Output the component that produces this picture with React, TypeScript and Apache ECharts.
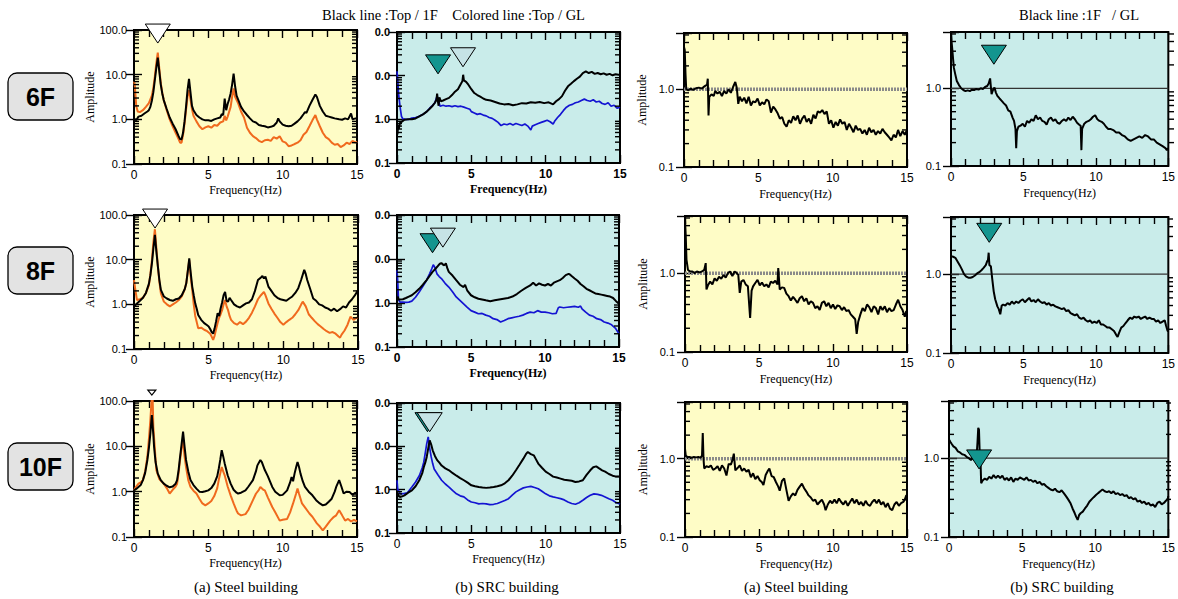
import React, { useEffect, useRef } from "react";
import * as echarts from "echarts";

// ---------- data (frequency Hz, amplitude) ----------
const A1_black = [[0,1.05],[0.15,0.95],[0.3,1.15],[0.5,1.2],[0.7,1.35],[0.9,1.5],[1.0,1.6],[1.1,1.9],[1.2,2.6],[1.3,4.0],[1.4,7.5],[1.5,14],[1.6,24],[1.7,12],[1.8,6],[1.9,3.8],[2.0,2.7],[2.2,1.7],[2.4,1.1],[2.6,0.8],[2.8,0.6],[3.0,0.42],[3.1,0.36],[3.2,0.36],[3.3,0.5],[3.4,0.9],[3.5,1.9],[3.6,4.5],[3.7,8.1],[3.8,4],[3.9,2],[4.0,1.6],[4.2,1.25],[4.4,1.1],[4.6,1.0],[4.8,0.95],[5.0,0.95],[5.2,0.92],[5.4,1.0],[5.6,1.05],[5.8,1.1],[5.9,1.3],[6.0,1.25],[6.1,2.9],[6.2,1.6],[6.3,2.2],[6.4,2.8],[6.5,3.8],[6.6,6],[6.7,10.5],[6.8,5.5],[6.9,3.4],[7.0,2.8],[7.2,1.9],[7.4,1.5],[7.6,1.25],[7.8,1.05],[8.0,0.9],[8.2,0.85],[8.4,0.75],[8.6,0.72],[8.8,0.7],[9.0,0.66],[9.2,0.68],[9.4,0.72],[9.6,0.85],[9.7,1.05],[9.8,0.9],[10.0,0.76],[10.2,0.72],[10.4,0.7],[10.6,0.72],[10.8,0.8],[11.0,0.9],[11.2,1.05],[11.4,1.3],[11.5,1.45],[11.6,1.4],[11.8,2.0],[12.0,2.7],[12.2,3.6],[12.3,3.2],[12.5,2.0],[12.7,1.5],[12.9,1.2],[13.1,1.15],[13.3,1.1],[13.5,1.05],[13.8,1.0],[14.0,0.98],[14.2,1.05],[14.4,1.0],[14.6,1.35],[14.7,1.0],[14.9,1.05],[15,1.05]];
const A1_orange = [[0,7],[0.05,6],[0.15,2.0],[0.25,1.5],[0.4,1.45],[0.6,1.6],[0.8,1.9],[1.0,2.3],[1.2,3.4],[1.3,5],[1.4,9],[1.5,18],[1.6,31],[1.7,14],[1.8,6.5],[1.9,4],[2.0,2.7],[2.2,1.6],[2.4,1.0],[2.6,0.7],[2.8,0.5],[3.0,0.36],[3.1,0.3],[3.2,0.3],[3.3,0.45],[3.4,0.8],[3.5,1.6],[3.6,3.2],[3.7,4.5],[3.8,2.8],[3.9,1.7],[4.0,1.2],[4.2,0.9],[4.4,0.7],[4.6,0.6],[4.8,0.66],[5.0,0.7],[5.2,0.65],[5.4,0.75],[5.6,0.72],[5.8,0.85],[6.0,0.9],[6.1,1.2],[6.2,0.95],[6.3,1.15],[6.5,1.9],[6.6,3.2],[6.7,4.9],[6.8,3.2],[7.0,2.3],[7.2,1.5],[7.4,1.1],[7.6,0.65],[7.8,0.5],[8.0,0.42],[8.2,0.38],[8.4,0.33],[8.6,0.31],[8.8,0.34],[9.0,0.35],[9.2,0.33],[9.4,0.4],[9.6,0.37],[9.8,0.42],[10.0,0.32],[10.2,0.3],[10.4,0.25],[10.6,0.26],[10.8,0.28],[11.0,0.3],[11.2,0.34],[11.4,0.45],[11.6,0.52],[11.8,0.7],[12.0,0.95],[12.2,1.25],[12.3,1.0],[12.5,0.7],[12.7,0.5],[12.9,0.4],[13.1,0.36],[13.3,0.3],[13.5,0.27],[13.7,0.28],[13.9,0.24],[14.1,0.26],[14.3,0.3],[14.5,0.28],[14.7,0.33],[14.9,0.3],[15,0.32]];
const A2_black = [[0,0.89],[0.2,1.05],[0.4,1.2],[0.6,1.4],[0.8,1.8],[1.0,2.9],[1.1,4.5],[1.2,8.3],[1.3,18],[1.4,36],[1.5,15],[1.6,7],[1.7,3.5],[1.8,2.1],[2.0,1.5],[2.2,1.35],[2.4,1.25],[2.6,1.2],[2.8,1.3],[3.0,1.35],[3.2,1.6],[3.4,2.2],[3.5,2.95],[3.6,5.5],[3.7,10.7],[3.8,5],[3.9,2.5],[4.0,1.6],[4.1,1.05],[4.2,0.8],[4.3,0.58],[4.5,0.45],[4.7,0.38],[4.9,0.34],[5.0,0.32],[5.1,0.28],[5.2,0.24],[5.3,0.22],[5.4,0.29],[5.5,0.42],[5.6,0.63],[5.7,0.55],[5.8,0.81],[5.9,1.1],[6.0,1.6],[6.1,1.9],[6.2,1.2],[6.3,1.15],[6.4,1.4],[6.5,1.25],[6.7,1.0],[6.9,0.9],[7.1,0.85],[7.3,0.95],[7.5,1.05],[7.7,1.1],[7.9,1.3],[8.1,2.0],[8.3,3.5],[8.5,4.0],[8.6,4.3],[8.7,3.8],[8.8,4.2],[9.0,2.5],[9.2,2.0],[9.4,1.6],[9.6,1.4],[9.8,1.3],[10.0,1.25],[10.2,1.2],[10.4,1.35],[10.6,1.5],[10.8,1.8],[11.0,2.3],[11.2,3.6],[11.4,5.9],[11.5,4.8],[11.6,3.5],[11.8,2.2],[12.0,1.35],[12.2,1.2],[12.4,1.0],[12.6,0.95],[12.8,0.85],[13.0,0.8],[13.2,0.72],[13.4,0.8],[13.6,0.7],[13.8,0.78],[14.0,0.9],[14.2,0.85],[14.4,1.1],[14.6,1.3],[14.8,1.6],[15,2.1]];
const A2_orange = [[0,3.5],[0.1,2.0],[0.2,1.25],[0.4,1.3],[0.6,1.4],[0.8,1.8],[1.0,2.7],[1.1,4.8],[1.2,9.8],[1.3,25],[1.4,48],[1.5,18],[1.6,7],[1.7,3.2],[1.8,1.75],[2.0,1.15],[2.2,1.0],[2.4,0.9],[2.6,1.0],[2.8,1.1],[3.0,1.25],[3.2,1.5],[3.4,2.2],[3.5,2.95],[3.6,5.5],[3.7,9.8],[3.8,4],[3.9,2.1],[4.0,1.0],[4.1,0.55],[4.2,0.4],[4.3,0.29],[4.5,0.3],[4.7,0.27],[4.9,0.25],[5.1,0.22],[5.2,0.19],[5.3,0.16],[5.4,0.2],[5.5,0.28],[5.6,0.38],[5.7,0.5],[5.8,0.6],[5.9,0.74],[6.0,1.0],[6.1,1.25],[6.2,0.9],[6.3,0.74],[6.4,0.55],[6.5,0.45],[6.7,0.38],[6.9,0.35],[7.1,0.4],[7.3,0.36],[7.5,0.41],[7.7,0.5],[7.9,0.65],[8.1,0.9],[8.3,1.3],[8.5,1.6],[8.7,1.9],[8.8,1.6],[9.0,1.05],[9.2,0.8],[9.4,0.62],[9.6,0.5],[9.8,0.4],[10.0,0.35],[10.2,0.4],[10.4,0.45],[10.6,0.5],[10.8,0.6],[11.0,0.74],[11.2,1.0],[11.3,1.15],[11.5,0.9],[11.7,0.6],[11.9,0.5],[12.1,0.42],[12.3,0.36],[12.5,0.32],[12.7,0.28],[12.9,0.25],[13.1,0.23],[13.3,0.24],[13.5,0.22],[13.7,0.19],[13.8,0.18],[13.9,0.21],[14.1,0.26],[14.3,0.35],[14.5,0.53],[14.7,0.45],[14.9,0.5],[15,0.49]];
const A3_black = [[0,1.07],[0.15,1.15],[0.3,1.27],[0.45,1.4],[0.6,1.8],[0.75,2.6],[0.9,5],[1.0,9],[1.1,19],[1.2,49],[1.3,18],[1.35,9.8],[1.45,4.5],[1.6,2.5],[1.8,1.8],[2.0,1.5],[2.2,1.35],[2.4,1.25],[2.6,1.3],[2.8,1.5],[2.9,1.8],[3.0,3],[3.1,5.9],[3.2,11],[3.3,21],[3.4,10],[3.5,5],[3.65,2.8],[3.8,1.8],[4.0,1.4],[4.2,1.17],[4.4,1.0],[4.6,0.98],[4.8,1.02],[5.0,1.07],[5.2,1.2],[5.4,1.5],[5.6,2.2],[5.7,3.2],[5.8,5],[5.9,8.2],[6.0,6],[6.1,4.2],[6.3,2.3],[6.5,1.5],[6.7,1.1],[6.9,0.95],[7.0,0.91],[7.2,0.95],[7.5,1.07],[7.7,1.3],[8.0,1.8],[8.2,2.8],[8.3,3.8],[8.5,5],[8.6,4.5],[8.8,3],[9.0,2.2],[9.3,1.27],[9.5,1.0],[9.8,0.83],[10.0,0.85],[10.3,1.07],[10.5,1.6],[10.6,2.1],[10.7,1.7],[10.8,2.5],[10.9,3.4],[11.0,4.5],[11.1,3.5],[11.2,2.5],[11.35,1.7],[11.5,1.27],[11.75,1.0],[12.0,0.83],[12.25,0.65],[12.5,0.55],[12.7,0.5],[12.9,0.52],[13.1,0.6],[13.3,0.7],[13.5,1.0],[13.6,1.27],[13.8,1.8],[13.95,1.3],[14.1,0.91],[14.3,1.0],[14.5,0.98],[14.7,0.85],[14.9,0.95],[15,0.83]];
const A3_orange = [[0,1.07],[0.15,1.3],[0.3,1.5],[0.45,1.6],[0.6,1.8],[0.75,2.8],[0.9,5.9],[1.0,14],[1.1,38],[1.2,130],[1.25,130],[1.3,27],[1.4,9],[1.5,3],[1.7,1.9],[2.0,1.5],[2.2,1.2],[2.4,0.91],[2.6,1.1],[2.8,1.3],[2.9,1.5],[3.0,2.6],[3.1,5],[3.2,9],[3.3,13.7],[3.4,6],[3.5,3.5],[3.65,1.8],[3.8,1.27],[4.0,1.05],[4.2,0.91],[4.4,0.7],[4.6,0.55],[4.8,0.5],[5.0,0.55],[5.2,0.62],[5.4,0.8],[5.6,1.2],[5.7,1.8],[5.8,2.5],[5.9,3.5],[6.0,2.8],[6.1,2.3],[6.3,1.3],[6.5,0.83],[6.7,0.55],[6.9,0.38],[7.0,0.33],[7.2,0.3],[7.5,0.32],[7.7,0.4],[8.0,0.65],[8.2,0.9],[8.4,1.1],[8.5,1.27],[8.7,1.1],[8.8,1.07],[9.0,0.75],[9.3,0.46],[9.5,0.35],[9.8,0.23],[10.0,0.24],[10.3,0.25],[10.5,0.35],[10.7,0.55],[10.9,0.9],[11.0,1.17],[11.1,0.9],[11.3,0.55],[11.5,0.45],[11.8,0.33],[12.0,0.28],[12.3,0.2],[12.5,0.17],[12.7,0.14],[12.9,0.17],[13.2,0.23],[13.4,0.27],[13.6,0.3],[13.8,0.39],[14.0,0.3],[14.2,0.23],[14.4,0.25],[14.6,0.22],[14.8,0.24],[15,0.22]];

const B1_black = [[0,0.58],[0.03,0.45],[0.08,0.75],[0.12,0.6],[0.2,0.83],[0.35,0.9],[0.5,0.98],[0.75,1.0],[1.0,1.0],[1.25,1.05],[1.5,1.17],[1.75,1.3],[2.0,1.5],[2.2,1.75],[2.4,2.05],[2.55,2.4],[2.65,2.8],[2.7,3.9],[2.75,2.6],[2.8,2.05],[2.85,3.2],[2.95,2.6],[3.1,2.7],[3.3,2.9],[3.5,3.1],[3.7,3.6],[3.9,4.3],[4.1,4.9],[4.3,6.5],[4.4,7.5],[4.45,10.5],[4.5,7.8],[4.65,7.2],[4.8,6.2],[5.0,4.9],[5.2,4.0],[5.4,3.6],[5.6,3.3],[5.8,3.0],[6.0,2.8],[6.3,2.7],[6.6,2.5],[6.9,2.3],[7.2,2.2],[7.5,2.25],[7.8,2.1],[8.1,2.2],[8.4,2.35],[8.7,2.3],[9.0,2.45],[9.3,2.4],[9.6,2.5],[9.9,2.35],[10.2,2.45],[10.5,2.2],[10.7,2.6],[10.9,2.9],[11.1,3.4],[11.3,4.5],[11.5,5.7],[11.7,6.5],[11.9,7.5],[12.1,8.5],[12.3,9.5],[12.5,11.5],[12.7,12.5],[12.9,11.5],[13.1,12.2],[13.3,11],[13.5,11.5],[13.7,10.8],[13.9,11.3],[14.1,10.5],[14.3,11],[14.5,10.2],[14.7,10.8],[14.9,10.5],[15,10.5]];
const B1_blue = [[0,12.6],[0.05,8],[0.1,4],[0.2,2],[0.3,1.17],[0.4,1.02],[0.6,1.0],[0.8,1.0],[1.0,1.07],[1.25,1.1],[1.5,1.17],[1.75,1.3],[2.0,1.5],[2.2,1.8],[2.4,2.1],[2.55,2.4],[2.7,3.4],[2.8,2.6],[2.9,2.0],[3.1,2.1],[3.3,2.0],[3.5,2.05],[3.7,1.95],[3.9,2.05],[4.1,1.95],[4.3,2.0],[4.5,1.9],[4.7,1.8],[4.9,1.7],[5.0,1.5],[5.2,1.4],[5.4,1.3],[5.6,1.35],[5.8,1.25],[6.0,1.2],[6.2,1.1],[6.4,1.05],[6.6,0.95],[6.8,0.85],[7.0,0.72],[7.2,0.78],[7.4,0.75],[7.6,0.8],[7.8,0.74],[8.0,0.8],[8.2,0.76],[8.4,0.72],[8.6,0.78],[8.8,0.7],[9.0,0.57],[9.1,0.7],[9.3,0.75],[9.5,0.8],[9.7,0.85],[9.9,0.9],[10.1,0.95],[10.3,0.88],[10.5,0.78],[10.6,0.9],[10.8,1.1],[11.0,1.3],[11.2,1.6],[11.4,1.9],[11.6,2.1],[11.8,2.2],[12.0,2.4],[12.2,2.5],[12.4,2.7],[12.6,2.9],[12.8,2.7],[13.0,2.6],[13.2,2.8],[13.4,2.5],[13.6,2.6],[13.8,2.3],[14.0,2.2],[14.2,2.4],[14.4,2.0],[14.6,2.1],[14.8,1.8],[15,1.9]];
const B2_black = [[0,1.15],[0.05,1.4],[0.1,1.2],[0.2,1.2],[0.4,1.22],[0.6,1.3],[0.8,1.4],[1.0,1.5],[1.25,1.75],[1.5,2.1],[1.75,2.6],[2.0,3.3],[2.2,4.1],[2.4,5.1],[2.6,6],[2.8,7.2],[2.9,7.8],[3.0,8.1],[3.1,7.5],[3.2,7.2],[3.3,8],[3.4,6.2],[3.5,5.1],[3.75,4.2],[4.0,3.3],[4.25,2.6],[4.5,2.3],[4.6,2.6],[4.75,1.9],[5.0,1.5],[5.25,1.35],[5.5,1.25],[5.75,1.2],[6.0,1.15],[6.3,1.1],[6.6,1.15],[6.9,1.2],[7.2,1.25],[7.5,1.3],[7.8,1.4],[8.1,1.6],[8.4,1.9],[8.7,2.2],[9.0,2.5],[9.2,2.9],[9.4,2.5],[9.6,2.8],[9.8,2.6],[10.0,2.5],[10.2,2.7],[10.4,2.5],[10.6,2.9],[10.8,3.1],[11.0,3.3],[11.2,3.7],[11.4,4.3],[11.6,4.6],[11.7,4.4],[11.8,4.1],[12.0,3.6],[12.2,3.2],[12.4,2.7],[12.6,2.4],[12.8,2.1],[13.0,1.95],[13.2,1.8],[13.4,1.65],[13.6,1.6],[13.8,1.55],[14.0,1.5],[14.2,1.45],[14.4,1.4],[14.6,1.3],[14.8,1.1],[15,0.96]];
const B2_blue = [[0,5.5],[0.05,3],[0.1,1.2],[0.2,1.05],[0.4,1.05],[0.6,1.03],[0.8,1.05],[1.0,1.1],[1.25,1.35],[1.5,1.78],[1.75,2.4],[2.0,3.3],[2.2,4.6],[2.35,6],[2.45,7.4],[2.55,6.5],[2.7,4.6],[2.85,4.0],[3.0,3.6],[3.25,2.8],[3.5,2.3],[3.75,1.8],[4.0,1.37],[4.25,1.15],[4.5,0.96],[4.75,0.8],[5.0,0.67],[5.25,0.62],[5.5,0.57],[5.75,0.58],[6.0,0.53],[6.25,0.5],[6.5,0.44],[6.75,0.42],[7.0,0.37],[7.25,0.4],[7.5,0.44],[7.75,0.46],[8.0,0.48],[8.25,0.5],[8.5,0.53],[8.75,0.58],[9.0,0.62],[9.25,0.6],[9.5,0.67],[9.75,0.62],[10.0,0.62],[10.25,0.6],[10.5,0.57],[10.75,0.58],[10.9,0.78],[11.0,0.81],[11.25,0.78],[11.5,0.8],[11.75,0.82],[12.0,0.84],[12.25,0.8],[12.4,0.85],[12.5,0.74],[12.75,0.62],[13.0,0.53],[13.25,0.5],[13.5,0.44],[13.75,0.42],[14.0,0.37],[14.25,0.35],[14.5,0.32],[14.75,0.27],[15,0.2]];
const B3_black = [[0,0.89],[0.1,0.72],[0.2,0.68],[0.35,0.7],[0.5,0.74],[0.75,0.85],[1.0,0.96],[1.25,1.2],[1.5,1.65],[1.7,2.4],[1.8,3.3],[1.9,4.2],[2.0,5.7],[2.1,9],[2.2,13.7],[2.3,11],[2.4,8.1],[2.55,6],[2.7,4.8],[2.85,4.2],[3.0,3.6],[3.25,3.1],[3.5,2.8],[3.75,2.4],[4.0,2.1],[4.25,1.85],[4.5,1.65],[4.75,1.45],[5.0,1.26],[5.25,1.2],[5.5,1.15],[5.75,1.12],[6.0,1.1],[6.25,1.12],[6.5,1.15],[6.75,1.2],[7.0,1.26],[7.25,1.4],[7.5,1.65],[7.75,2.1],[8.0,2.8],[8.25,3.8],[8.5,5.2],[8.7,6.8],[8.8,7.4],[9.0,6.6],[9.2,6.2],[9.35,5],[9.5,4],[9.75,3.2],[10.0,2.6],[10.25,2.3],[10.5,2.0],[10.75,1.9],[11.0,1.8],[11.25,1.7],[11.5,1.65],[11.75,1.6],[12.0,1.5],[12.25,1.55],[12.5,1.65],[12.75,2.2],[13.0,2.8],[13.2,3.3],[13.4,3.45],[13.6,3.1],[13.8,2.8],[14.0,2.6],[14.25,2.3],[14.5,2.1],[14.75,2.0],[15,2.0]];
const B3_blue = [[0,1.65],[0.05,1.0],[0.1,0.96],[0.2,0.82],[0.3,0.8],[0.5,0.82],[0.7,0.85],[1.0,1.15],[1.25,1.5],[1.5,2.1],[1.7,3.2],[1.8,4.3],[1.9,7],[2.0,11.5],[2.1,16.5],[2.2,9],[2.3,5.7],[2.4,4],[2.5,3],[2.75,2.2],[3.0,1.65],[3.25,1.35],[3.5,1.15],[3.75,0.95],[4.0,0.8],[4.25,0.72],[4.5,0.68],[4.75,0.58],[5.0,0.52],[5.25,0.5],[5.5,0.47],[5.75,0.48],[6.0,0.47],[6.25,0.45],[6.5,0.46],[6.75,0.48],[7.0,0.52],[7.25,0.56],[7.5,0.62],[7.75,0.75],[8.0,0.89],[8.25,1.0],[8.5,1.1],[8.75,1.15],[9.0,1.19],[9.25,1.12],[9.5,1.05],[9.75,0.92],[10.0,0.8],[10.25,0.72],[10.5,0.68],[10.75,0.65],[11.0,0.62],[11.25,0.58],[11.5,0.52],[11.75,0.48],[12.0,0.46],[12.25,0.5],[12.5,0.57],[12.75,0.66],[13.0,0.74],[13.25,0.8],[13.5,0.78],[13.75,0.74],[14.0,0.68],[14.25,0.62],[14.5,0.57],[14.75,0.5],[15,0.47]];

const C1_black = [[0,3.5],[0.05,3.2],[0.1,1.6],[0.15,1.0],[0.3,0.97],[0.45,1.02],[0.6,0.98],[0.8,1.03],[1.0,1.05],[1.2,1.02],[1.4,1.1],[1.55,1.15],[1.6,1.37],[1.65,0.46],[1.7,0.8],[1.85,0.86],[2.0,0.82],[2.1,0.95],[2.25,0.88],[2.4,0.93],[2.55,0.82],[2.7,0.95],[2.85,0.88],[3.0,1.0],[3.15,0.9],[3.3,1.07],[3.45,1.24],[3.55,1.05],[3.65,0.65],[3.75,0.8],[3.9,0.7],[4.05,0.78],[4.2,0.66],[4.35,0.8],[4.5,0.62],[4.65,0.7],[4.8,0.68],[4.95,0.76],[5.1,0.62],[5.25,0.68],[5.4,0.64],[5.55,0.74],[5.7,0.7],[5.85,0.5],[6.0,0.6],[6.15,0.55],[6.3,0.49],[6.45,0.42],[6.6,0.44],[6.75,0.36],[6.9,0.33],[7.05,0.4],[7.2,0.37],[7.35,0.45],[7.5,0.4],[7.65,0.46],[7.8,0.36],[7.95,0.42],[8.1,0.46],[8.25,0.38],[8.4,0.42],[8.55,0.36],[8.7,0.47],[8.85,0.42],[9.0,0.52],[9.15,0.5],[9.3,0.54],[9.45,0.48],[9.6,0.52],[9.75,0.36],[9.9,0.4],[10.05,0.32],[10.2,0.38],[10.35,0.34],[10.5,0.41],[10.65,0.36],[10.8,0.38],[10.95,0.3],[11.1,0.36],[11.25,0.32],[11.4,0.28],[11.55,0.34],[11.7,0.3],[11.85,0.31],[12.0,0.27],[12.15,0.3],[12.3,0.26],[12.45,0.32],[12.6,0.28],[12.75,0.3],[12.9,0.26],[13.05,0.29],[13.2,0.27],[13.35,0.31],[13.5,0.28],[13.65,0.26],[13.8,0.24],[13.95,0.22],[14.1,0.26],[14.25,0.24],[14.4,0.3],[14.55,0.25],[14.7,0.29],[14.85,0.26],[15,0.3]];
const D1_black = [[0,5],[0.05,3.8],[0.1,3],[0.15,2.3],[0.2,1.83],[0.3,1.5],[0.4,1.24],[0.55,1.1],[0.7,1.0],[0.85,0.95],[1.0,0.92],[1.15,0.94],[1.3,0.92],[1.45,0.96],[1.6,0.95],[1.75,0.98],[1.9,0.96],[2.05,1.0],[2.2,0.98],[2.35,1.04],[2.5,1.07],[2.6,1.15],[2.7,1.34],[2.75,1.05],[2.8,0.84],[2.9,0.95],[3.0,1.02],[3.1,0.88],[3.2,0.8],[3.35,0.74],[3.5,0.69],[3.65,0.64],[3.8,0.6],[3.95,0.52],[4.1,0.5],[4.25,0.42],[4.35,0.38],[4.45,0.3],[4.5,0.17],[4.55,0.28],[4.65,0.32],[4.8,0.33],[4.95,0.35],[5.1,0.32],[5.25,0.38],[5.4,0.36],[5.55,0.4],[5.7,0.38],[5.85,0.45],[6.0,0.4],[6.15,0.42],[6.3,0.38],[6.45,0.37],[6.6,0.34],[6.75,0.4],[6.9,0.42],[7.05,0.38],[7.2,0.4],[7.35,0.36],[7.5,0.35],[7.65,0.38],[7.8,0.4],[7.95,0.38],[8.1,0.42],[8.25,0.39],[8.4,0.43],[8.55,0.4],[8.7,0.36],[8.85,0.34],[8.95,0.33],[9.0,0.16],[9.05,0.3],[9.2,0.35],[9.35,0.37],[9.5,0.38],[9.65,0.4],[9.8,0.43],[9.95,0.45],[10.1,0.4],[10.25,0.38],[10.4,0.37],[10.55,0.35],[10.7,0.32],[10.85,0.3],[11.0,0.3],[11.2,0.29],[11.4,0.27],[11.6,0.27],[11.8,0.25],[12.0,0.24],[12.2,0.22],[12.4,0.21],[12.6,0.22],[12.8,0.23],[13.0,0.24],[13.2,0.23],[13.4,0.25],[13.6,0.24],[13.8,0.22],[14.0,0.22],[14.2,0.2],[14.4,0.19],[14.6,0.18],[14.8,0.17],[14.9,0.16],[15,0.17]];
const C2_black = [[0,4.7],[0.05,3],[0.1,1.48],[0.2,1.1],[0.35,1.05],[0.5,1.05],[0.65,1.0],[0.8,1.05],[1.0,1.02],[1.15,1.05],[1.3,1.1],[1.4,1.34],[1.45,0.62],[1.55,0.7],[1.7,0.78],[1.85,0.72],[2.0,0.86],[2.15,0.8],[2.3,0.9],[2.45,0.85],[2.6,0.95],[2.75,0.88],[2.9,1.0],[3.05,1.05],[3.2,0.92],[3.35,1.05],[3.5,1.0],[3.6,0.95],[3.7,0.56],[3.8,0.78],[3.95,0.82],[4.1,0.72],[4.25,0.68],[4.4,0.27],[4.5,0.6],[4.6,0.68],[4.75,0.75],[4.9,0.82],[5.05,0.7],[5.2,0.76],[5.35,0.68],[5.5,0.72],[5.65,0.66],[5.8,0.78],[5.95,0.75],[6.1,0.8],[6.25,0.72],[6.3,1.16],[6.4,0.62],[6.55,0.66],[6.7,0.65],[6.85,0.55],[7.0,0.51],[7.15,0.45],[7.3,0.5],[7.45,0.46],[7.6,0.42],[7.75,0.48],[7.9,0.51],[8.05,0.44],[8.2,0.48],[8.35,0.4],[8.5,0.44],[8.65,0.42],[8.8,0.36],[8.95,0.38],[9.1,0.34],[9.25,0.42],[9.4,0.44],[9.55,0.38],[9.7,0.42],[9.85,0.36],[10.0,0.4],[10.15,0.35],[10.3,0.39],[10.45,0.38],[10.6,0.34],[10.75,0.37],[10.9,0.33],[11.05,0.34],[11.2,0.3],[11.35,0.28],[11.5,0.26],[11.6,0.17],[11.7,0.24],[11.85,0.3],[12.0,0.36],[12.15,0.33],[12.3,0.4],[12.45,0.37],[12.6,0.32],[12.75,0.38],[12.9,0.36],[13.05,0.3],[13.2,0.38],[13.35,0.34],[13.5,0.38],[13.65,0.32],[13.8,0.36],[13.95,0.33],[14.1,0.34],[14.25,0.4],[14.4,0.46],[14.55,0.38],[14.7,0.34],[14.85,0.28],[14.95,0.33],[15,0.31]];
const D2_black = [[0,1.69],[0.15,1.66],[0.3,1.61],[0.45,1.45],[0.6,1.3],[0.75,1.15],[0.9,1.0],[1.05,0.93],[1.2,0.9],[1.35,0.9],[1.5,0.92],[1.65,0.96],[1.8,1.02],[1.95,1.06],[2.1,1.12],[2.25,1.2],[2.4,1.3],[2.5,1.46],[2.55,1.5],[2.6,1.87],[2.65,1.3],[2.75,1.26],[2.85,0.86],[2.95,0.6],[3.05,0.48],[3.2,0.39],[3.3,0.36],[3.4,0.31],[3.5,0.4],[3.6,0.41],[3.75,0.4],[3.9,0.43],[4.05,0.41],[4.2,0.45],[4.35,0.42],[4.5,0.45],[4.65,0.43],[4.8,0.46],[4.95,0.48],[5.1,0.44],[5.25,0.47],[5.4,0.5],[5.55,0.45],[5.7,0.47],[5.85,0.44],[6.0,0.48],[6.15,0.45],[6.3,0.43],[6.45,0.44],[6.6,0.41],[6.75,0.43],[6.9,0.4],[7.05,0.41],[7.2,0.39],[7.35,0.38],[7.5,0.37],[7.65,0.36],[7.8,0.37],[7.95,0.34],[8.1,0.35],[8.25,0.32],[8.4,0.31],[8.55,0.3],[8.7,0.31],[8.85,0.28],[9.0,0.27],[9.15,0.28],[9.3,0.26],[9.45,0.25],[9.6,0.26],[9.75,0.24],[9.9,0.25],[10.05,0.24],[10.2,0.26],[10.35,0.23],[10.5,0.23],[10.65,0.22],[10.8,0.21],[10.95,0.21],[11.1,0.2],[11.25,0.19],[11.4,0.17],[11.5,0.16],[11.6,0.18],[11.75,0.21],[11.9,0.22],[12.05,0.24],[12.2,0.26],[12.35,0.28],[12.5,0.27],[12.65,0.29],[12.8,0.28],[12.95,0.29],[13.1,0.27],[13.25,0.28],[13.4,0.29],[13.55,0.27],[13.7,0.28],[13.85,0.27],[14.0,0.27],[14.15,0.25],[14.3,0.26],[14.45,0.24],[14.6,0.25],[14.75,0.26],[14.85,0.22],[14.95,0.19],[15,0.19]];
const C3_black = [[0,1.34],[0.05,1.1],[0.15,1.05],[0.3,1.05],[0.45,1.03],[0.6,1.05],[0.75,1.04],[0.9,1.05],[1.05,1.03],[1.15,1.1],[1.2,2.13],[1.25,1.0],[1.3,0.75],[1.45,0.8],[1.6,0.78],[1.75,0.82],[1.9,0.72],[2.05,0.75],[2.2,0.8],[2.35,0.7],[2.5,0.82],[2.65,0.75],[2.8,0.61],[2.95,0.86],[3.1,0.84],[3.2,0.95],[3.3,1.16],[3.4,0.71],[3.55,0.76],[3.7,0.82],[3.85,0.7],[4.0,0.75],[4.15,0.68],[4.3,0.72],[4.45,0.58],[4.6,0.65],[4.75,0.55],[4.9,0.6],[5.05,0.53],[5.2,0.5],[5.3,0.46],[5.45,0.62],[5.6,0.7],[5.7,0.75],[5.85,0.6],[6.0,0.58],[6.15,0.5],[6.3,0.44],[6.4,0.39],[6.55,0.52],[6.7,0.56],[6.85,0.4],[7.0,0.29],[7.15,0.33],[7.3,0.36],[7.45,0.34],[7.6,0.4],[7.75,0.44],[7.9,0.48],[8.05,0.42],[8.2,0.38],[8.35,0.34],[8.5,0.32],[8.65,0.29],[8.8,0.3],[8.95,0.26],[9.1,0.28],[9.25,0.3],[9.4,0.26],[9.5,0.22],[9.65,0.26],[9.8,0.29],[9.95,0.27],[10.1,0.3],[10.25,0.27],[10.4,0.31],[10.55,0.28],[10.7,0.26],[10.85,0.29],[11.0,0.25],[11.15,0.28],[11.3,0.31],[11.45,0.27],[11.6,0.3],[11.75,0.26],[11.9,0.28],[12.05,0.25],[12.2,0.29],[12.35,0.26],[12.5,0.25],[12.65,0.28],[12.8,0.3],[12.95,0.27],[13.1,0.3],[13.25,0.26],[13.4,0.28],[13.55,0.24],[13.7,0.27],[13.85,0.23],[14.0,0.22],[14.15,0.26],[14.3,0.28],[14.45,0.25],[14.6,0.27],[14.75,0.28],[14.85,0.3],[14.95,0.34],[15,0.34]];
const D3_black = [[0,1.72],[0.1,1.6],[0.2,1.5],[0.3,1.41],[0.45,1.35],[0.6,1.22],[0.75,1.18],[0.9,1.12],[1.05,1.1],[1.2,1.04],[1.35,1.0],[1.5,0.95],[1.65,1.0],[1.8,1.1],[1.9,1.15],[1.95,1.6],[2.0,2.42],[2.05,2.3],[2.1,1.16],[2.15,1.0],[2.2,0.48],[2.3,0.52],[2.45,0.55],[2.6,0.53],[2.75,0.58],[2.9,0.55],[3.05,0.61],[3.2,0.56],[3.35,0.6],[3.5,0.56],[3.65,0.6],[3.8,0.53],[3.95,0.56],[4.1,0.52],[4.25,0.57],[4.4,0.5],[4.55,0.55],[4.7,0.53],[4.85,0.57],[5.0,0.55],[5.15,0.53],[5.3,0.57],[5.45,0.52],[5.6,0.53],[5.75,0.5],[5.9,0.52],[6.05,0.48],[6.2,0.5],[6.35,0.46],[6.5,0.47],[6.65,0.44],[6.8,0.42],[6.95,0.4],[7.1,0.39],[7.25,0.41],[7.4,0.38],[7.55,0.37],[7.7,0.39],[7.85,0.36],[8.0,0.33],[8.15,0.3],[8.3,0.27],[8.45,0.23],[8.6,0.2],[8.7,0.18],[8.8,0.165],[8.9,0.19],[9.0,0.2],[9.15,0.21],[9.3,0.23],[9.45,0.25],[9.6,0.28],[9.75,0.3],[9.9,0.32],[10.05,0.34],[10.2,0.36],[10.35,0.38],[10.5,0.4],[10.65,0.38],[10.8,0.37],[10.95,0.38],[11.1,0.36],[11.25,0.38],[11.4,0.35],[11.55,0.36],[11.7,0.34],[11.85,0.35],[12.0,0.33],[12.15,0.34],[12.3,0.31],[12.45,0.32],[12.6,0.3],[12.75,0.31],[12.9,0.28],[13.05,0.29],[13.2,0.27],[13.35,0.28],[13.5,0.26],[13.65,0.27],[13.8,0.25],[13.95,0.26],[14.1,0.24],[14.25,0.27],[14.4,0.28],[14.55,0.26],[14.7,0.27],[14.85,0.29],[14.95,0.3],[15,0.33]];

const UNITY_LINE = [[0, 1], [15, 1]];

// peak markers: frequency (Hz) and tip amplitude
const A1_marks = [{ f: 1.6, tip: 51, kind: "white" }];
const B1_marks = [{ f: 2.76, tip: 11, kind: "teal" }, { f: 4.44, tip: 16, kind: "light" }];
const A2_marks = [{ f: 1.41, tip: 51, kind: "white" }];
const B2_marks = [{ f: 2.4, tip: 13.9, kind: "teal" }, { f: 3.1, tip: 18.6, kind: "light" }];
const A3_marks = [{ f: 1.2, tip: 135, kind: "small" }];
const B3_marks = [{ f: 2.05, tip: 21.8, kind: "teal" }, { f: 2.2, tip: 21.8, kind: "light" }];
const D1_marks = [{ f: 2.96, tip: 2.04, kind: "teal" }];
const D2_marks = [{ f: 2.64, tip: 2.53, kind: "teal" }];
const D3_marks = [{ f: 2.06, tip: 0.73, kind: "teal" }];

const ROW_LABELS = ["6F", "8F", "10F"];
const CAPTIONS = ["(a) Steel building", "(b) SRC building", "(a) Steel building", "(b) SRC building"];
const HEADER_1 = "Black line :Top / 1F    Colored line :Top / GL";
const HEADER_2 = "Black line :1F   / GL";
const X_NAME = "Frequency(Hz)";
const Y_NAME = "Amplitude";

// ---------- styling ----------
const BLACK = "#000000";
const ORANGE = "#f06a1e";
const BLUE = "#1414d2";
const YELLOW = "#fefcc6";
const CYAN = "#c9ecea";
const TEAL = "#13958f";
const LIGHT = "#c6e3e6";
const SANS = "'Liberation Sans', Arial, sans-serif";
const SERIF = "'Liberation Serif', 'Times New Roman', serif";

type Line = { data: number[][]; color: string; width: number; ref?: boolean };
type Panel = {
  kind: "A" | "B" | "C" | "D";
  rect: [number, number, number, number];
  lines: Line[];
  marks: { f: number; tip: number; kind: string }[];
  boldX?: boolean;
};

const panels: Panel[] = [
  { kind: "A", rect: [134, 30, 223, 134], lines: [{ data: A1_orange, color: ORANGE, width: 2 }, { data: A1_black, color: BLACK, width: 2 }], marks: A1_marks },
  { kind: "B", rect: [397, 32, 223, 131], lines: [{ data: B1_blue, color: BLUE, width: 1.7 }, { data: B1_black, color: BLACK, width: 2 }], marks: B1_marks, boldX: true },
  { kind: "C", rect: [684, 33, 223, 134], lines: [{ data: UNITY_LINE, color: "#8a8a8a", width: 3.5, ref: true }, { data: C1_black, color: BLACK, width: 2 }], marks: [] },
  { kind: "D", rect: [951, 32, 223, 134], lines: [{ data: UNITY_LINE, color: "#333333", width: 1.2, ref: true }, { data: D1_black, color: BLACK, width: 2 }], marks: D1_marks },
  { kind: "A", rect: [134, 215, 224, 134], lines: [{ data: A2_orange, color: ORANGE, width: 2 }, { data: A2_black, color: BLACK, width: 2 }], marks: A2_marks },
  { kind: "B", rect: [397, 215, 222, 132], lines: [{ data: B2_blue, color: BLUE, width: 1.7 }, { data: B2_black, color: BLACK, width: 2 }], marks: B2_marks, boldX: true },
  { kind: "C", rect: [685, 216, 222, 136], lines: [{ data: UNITY_LINE, color: "#8a8a8a", width: 3.5, ref: true }, { data: C2_black, color: BLACK, width: 2 }], marks: [] },
  { kind: "D", rect: [951, 217, 222, 136], lines: [{ data: UNITY_LINE, color: "#333333", width: 1.2, ref: true }, { data: D2_black, color: BLACK, width: 2 }], marks: D2_marks },
  { kind: "A", rect: [134, 401, 223, 136], lines: [{ data: A3_orange, color: ORANGE, width: 2 }, { data: A3_black, color: BLACK, width: 2 }], marks: A3_marks },
  { kind: "B", rect: [397, 403, 223, 130], lines: [{ data: B3_blue, color: BLUE, width: 1.7 }, { data: B3_black, color: BLACK, width: 2 }], marks: B3_marks },
  { kind: "C", rect: [685, 402, 222, 135], lines: [{ data: UNITY_LINE, color: "#8a8a8a", width: 3.5, ref: true }, { data: C3_black, color: BLACK, width: 2 }], marks: [] },
  { kind: "D", rect: [949, 401, 222, 136], lines: [{ data: UNITY_LINE, color: "#333333", width: 1.2, ref: true }, { data: D3_black, color: BLACK, width: 2 }], marks: D3_marks },
];

const yMaxOf = (k: string) => (k === "A" || k === "B" ? 100 : 5.3);

function yFormatter(kind: string) {
  return (v: number) => {
    const lg = Math.log10(v);
    const e = Math.round(lg);
    if (Math.abs(lg - e) > 0.01) return "";
    if (e === -1) return "0.1";
    if (e === 0) return "1.0";
    if (kind === "B") return "0.0";
    return Math.pow(10, e).toFixed(1);
  };
}

function buildOption() {
  const grid: any[] = [];
  const xAxis: any[] = [];
  const yAxis: any[] = [];
  const series: any[] = [];
  panels.forEach((p, i) => {
    const [l, t, w, h] = p.rect;
    const bg = p.kind === "A" || p.kind === "C" ? YELLOW : CYAN;
    grid.push({ left: l, top: t, width: w, height: h, show: true, backgroundColor: bg, borderColor: "#000", borderWidth: 2, containLabel: false });
    const tickStyle = { color: "#000", width: 1.4 };
    const xBase = {
      type: "value", gridIndex: i, min: 0, max: 15, interval: 5,
      axisLine: { show: false }, splitLine: { show: false },
      axisTick: { show: true, inside: true, length: 8, lineStyle: tickStyle },
      minorTick: { show: true, splitNumber: 5, length: 7, lineStyle: tickStyle },
    };
    xAxis.push({
      ...xBase, position: "bottom",
      axisLabel: { show: true, fontFamily: SANS, fontSize: 12, color: "#000", margin: 5, fontWeight: p.boldX ? "bold" : "normal" },
      name: X_NAME, nameLocation: "middle", nameGap: p.kind === "A" || p.kind === "B" ? 20 : 21,
      nameTextStyle: { fontFamily: SERIF, fontSize: 12, color: "#000", fontWeight: p.boldX ? "bold" : "normal" },
    });
    xAxis.push({ ...xBase, position: "top", axisLabel: { show: false } });
    const ymax = yMaxOf(p.kind);
    const yBase = {
      type: "log", logBase: 10, gridIndex: i, min: 0.1, max: ymax,
      axisLine: { show: false }, splitLine: { show: false },
      axisTick: { show: true, inside: true, length: 8, lineStyle: tickStyle },
    };
    const hasName = p.kind === "A" || p.kind === "C";
    yAxis.push({
      ...yBase, position: "left",
      axisLabel: { show: true, formatter: yFormatter(p.kind), fontFamily: SANS, fontSize: 11, color: "#000", margin: p.kind === "C" || p.kind === "D" ? 10 : 7, fontWeight: p.kind === "B" ? "bold" : "normal" },
      name: hasName ? Y_NAME : "", nameLocation: "middle", nameGap: p.kind === "A" ? 37 : 36, nameRotate: 90,
      nameTextStyle: { fontFamily: SERIF, fontSize: 12, color: "#000" },
    });
    yAxis.push({ ...yBase, position: "right", axisLabel: { show: false } });
    p.lines.forEach((ln) => {
      series.push({
        type: "line", xAxisIndex: 2 * i, yAxisIndex: 2 * i, data: ln.data,
        showSymbol: false, symbol: "none", clip: true, silent: true,
        lineStyle: { color: ln.color, width: ln.width, type: ln.ref && p.kind === "C" ? [2, 1] : "solid" },
        z: ln.ref ? 1 : 2,
      });
    });
  });
  return { animation: false, grid, xAxis, yAxis, series };
}

function buildGraphic(chart: any) {
  const els: any[] = [];
  const tick = (x1: number, y1: number, x2: number, y2: number) => ({
    type: "line", silent: true, z: 50, shape: { x1, y1, x2, y2 }, style: { stroke: "#000", lineWidth: 1.4 },
  });
  panels.forEach((p, i) => {
    const [l, t, w, h] = p.rect;
    const ymax = yMaxOf(p.kind);
    [0.1, 1, 10].forEach((d) => {
      for (let k = 2; k <= 9; k++) {
        const v = k * d;
        if (v >= ymax) continue;
        const py = chart.convertToPixel({ yAxisIndex: 2 * i }, v);
        els.push(tick(l, py, l + 5, py));
        els.push(tick(l + w, py, l + w - 5, py));
      }
    });
    p.marks.forEach((m) => {
      const px = chart.convertToPixel({ xAxisIndex: 2 * i }, m.f);
      const py = chart.convertToPixel({ yAxisIndex: 2 * i }, m.tip);
      const small = m.kind === "small";
      const hw = small ? 4 : 12.5;
      const hh = small ? 5 : 19;
      const fill = m.kind === "teal" ? TEAL : m.kind === "light" ? LIGHT : "#ffffff";
      els.push({
        type: "polygon", silent: true, z: 60,
        shape: { points: [[px - hw, py - hh], [px + hw, py - hh], [px, py]] },
        style: { fill, stroke: "#000", lineWidth: small ? 1.2 : 1 },
      });
    });
  });
  // row labels
  const boxTops = [73, 247, 443];
  ROW_LABELS.forEach((txt, r) => {
    els.push({ type: "rect", silent: true, z: 60, shape: { x: 8, y: boxTops[r], width: 65, height: 47, r: 9 }, style: { fill: "#e3e3e3", stroke: "#000", lineWidth: 1.3 } });
    els.push({ type: "text", silent: true, z: 61, x: 40.5, y: boxTops[r] + 24, style: { text: txt, font: `bold 25px ${SANS}`, fill: "#000", textAlign: "center", textVerticalAlign: "middle" } });
  });
  // headers
  els.push({ type: "text", silent: true, z: 61, x: 322, y: 15, style: { text: HEADER_1, font: `14.5px ${SERIF}`, fill: "#000", textAlign: "left", textVerticalAlign: "middle" } });
  els.push({ type: "text", silent: true, z: 61, x: 1019, y: 15, style: { text: HEADER_2, font: `14.5px ${SERIF}`, fill: "#000", textAlign: "left", textVerticalAlign: "middle" } });
  // captions
  const capX = [246, 507, 796, 1062];
  CAPTIONS.forEach((c, k) => {
    els.push({ type: "text", silent: true, z: 61, x: capX[k], y: 587, style: { text: c, font: `15px ${SERIF}`, fill: "#000", textAlign: "center", textVerticalAlign: "middle" } });
  });
  return els;
}

export default function App() {
  const ref = useRef<HTMLDivElement>(null);
  useEffect(() => {
    if (!ref.current) return;
    const chart = echarts.init(ref.current, undefined, { renderer: "svg" });
    chart.setOption(buildOption());
    chart.setOption({ graphic: { elements: buildGraphic(chart) } });
    return () => chart.dispose();
  }, []);
  return (
    <div
      ref={ref}
      style={{ position: "absolute", left: 0, top: 0, width: 1178, height: 599, background: "#ffffff" }}
    />
  );
}
